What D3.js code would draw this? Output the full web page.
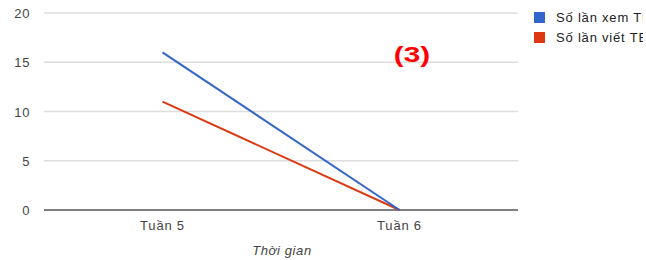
<!DOCTYPE html>
<meta charset="utf-8">
<html>
<head>
<style>
body { margin: 0; background: #fff; }
svg { font-family: "Liberation Sans", Arial, sans-serif; }
</style>
</head>
<body>
<svg width="646" height="260"></svg>
<script src="https://d3js.org/d3.v7.min.js"></script>
<script>

var weeks = ["Tuần 5", "Tuần 6"];
var views = [16, 0];
var writes = [11, 0];
var seriesNames = ["Số lần xem TB", "Số lần viết TB"];
var colors = ["#3366cc", "#dc3912"];
var yTicks = [0, 5, 10, 15, 20];

var svg = d3.select("svg");
var plotL = 44, plotR = 518, plotT = 13, plotB = 210;

var x = d3.scalePoint().domain(weeks).range([plotL, plotR]).padding(0.5);
var y = d3.scaleLinear().domain([0, 20]).range([plotB, plotT]);

// gridlines
svg.append("g").selectAll("line")
    .data(yTicks.filter(function(d) { return d > 0; }))
    .enter().append("line")
    .attr("x1", plotL).attr("x2", plotR)
    .attr("y1", function(d) { return y(d); })
    .attr("y2", function(d) { return y(d); })
    .attr("stroke", "#dddddd").attr("stroke-width", 1.5);

// y labels
svg.append("g").selectAll("text")
    .data(yTicks)
    .enter().append("text")
    .attr("x", 30).attr("y", function(d) { return y(d) + 5; })
    .attr("text-anchor", "end")
    .attr("font-size", 13).attr("letter-spacing", 0.6).attr("fill", "#444")
    .text(function(d) { return d; });

// baseline
svg.append("line")
    .attr("x1", plotL).attr("x2", plotR)
    .attr("y1", y(0)).attr("y2", y(0))
    .attr("stroke", "#555").attr("stroke-width", 1.5);

// x labels
svg.append("g").selectAll("text")
    .data(weeks)
    .enter().append("text")
    .attr("x", function(d) { return x(d); }).attr("y", 230)
    .attr("text-anchor", "middle")
    .attr("font-size", 13).attr("letter-spacing", 0.8).attr("fill", "#444")
    .text(function(d) { return d; });

svg.append("text")
    .attr("x", 282).attr("y", 255)
    .attr("text-anchor", "middle")
    .attr("font-size", 13).attr("letter-spacing", 0.6)
    .attr("font-style", "italic").attr("fill", "#444")
    .text("Thời gian");

var line = d3.line()
    .x(function(d, i) { return x(weeks[i]); })
    .y(function(d) { return y(d); });

[writes, views].forEach(function(vals, k) {
  svg.append("path")
      .datum(vals)
      .attr("d", line)
      .attr("fill", "none")
      .attr("stroke", k == 0 ? colors[1] : colors[0])
      .attr("stroke-width", 2);
});

// legend (clipped at the right edge like the original)
svg.append("clipPath").attr("id", "clip")
  .append("rect").attr("x", 0).attr("y", 0).attr("width", 643).attr("height", 260);

var legend = svg.append("g").attr("clip-path", "url(#clip)");
seriesNames.forEach(function(name, i) {
  legend.append("rect")
      .attr("x", 534).attr("y", 12 + i * 20)
      .attr("width", 11).attr("height", 11)
      .attr("fill", colors[i]);
  legend.append("text")
      .attr("x", 556).attr("y", 22 + i * 20)
      .attr("font-size", 13).attr("letter-spacing", 0.8).attr("fill", "#222")
      .text(name);
});

svg.append("text")
    .attr("transform", "translate(412,62) scale(1.35,1)")
    .attr("text-anchor", "middle")
    .attr("font-size", 22).attr("font-weight", "bold")
    .attr("fill", "#ff0000")
    .text("(3)");

</script>
</body>
</html>
